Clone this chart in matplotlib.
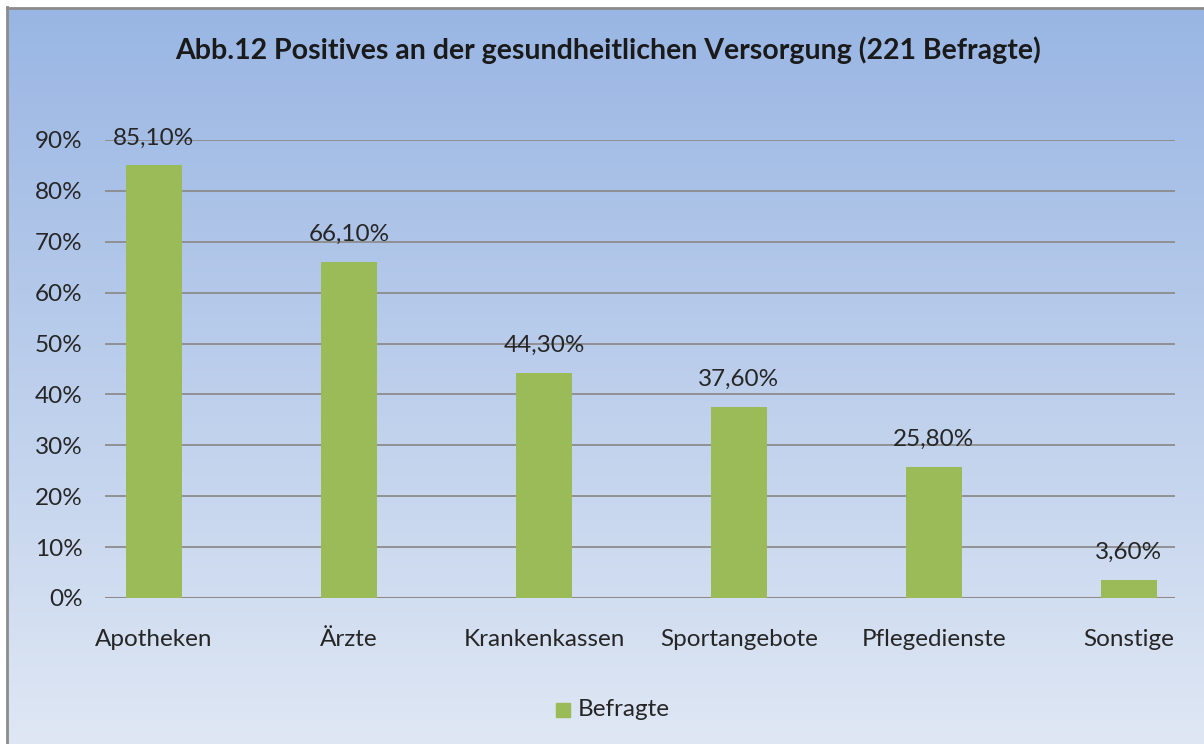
import numpy as np
import matplotlib.pyplot as plt
from matplotlib.patches import Rectangle
from matplotlib.lines import Line2D

# Data
categories = ['Apotheken', 'Ärzte', 'Krankenkassen', 'Sportangebote', 'Pflegedienste', 'Sonstige']
values     = [85.1, 66.1, 44.3, 37.6, 25.8, 3.6]
labels     = ['85,10%', '66,10%', '44,30%', '37,60%', '25,80%', '3,60%']
yticks     = [0, 10, 20, 30, 40, 50, 60, 70, 80, 90]
series     = 'Befragte'
title      = 'Abb.12 Positives an der gesundheitlichen Versorgung (221 Befragte)'

FONT   = ['Lato', 'DejaVu Sans']
GREEN  = '#9bbb59'
TXT    = '#262626'
FS     = 17.5
W, H   = 1204, 744

plt.rcParams['font.family'] = FONT
fig = plt.figure(figsize=(W / 100, H / 100), dpi=100)

# ── background gradient + border (only top/left visible) ────────────────────
bg = fig.add_axes([0, 0, 1, 1], zorder=0)
top = np.array([152, 181, 227]) / 255
bot = np.array([223, 231, 244]) / 255
t = np.linspace(0, 1, 256)[:, None]
grad = top * (1 - t) + bot * t
bg.imshow(grad[:, None, :], aspect='auto', extent=[0, 1, 0, 1])
bg.set_xlim(0, 1)
bg.set_ylim(0, 1)
bg.axis('off')
# white margin left/top outside the frame
bg.add_patch(Rectangle((0, 0), 6 / W, 1, color='white', zorder=2))
bg.add_patch(Rectangle((0, 1 - 7 / H), 1, 7 / H, color='white', zorder=2))
bg.add_line(Line2D([6.5 / W, 6.5 / W], [0, 1 - 7 / H], color='#8c8c8c', lw=2, zorder=3))
bg.add_line(Line2D([6.5 / W, 1], [1 - 7.5 / H, 1 - 7.5 / H], color='#8c8c8c', lw=2, zorder=3))

# ── plot area ────────────────────────────────────────────────────────────────
ax = fig.add_axes([105 / W, 1 - 598 / H, 1070 / W, 458 / H], zorder=1)
ax.patch.set_alpha(0)
x = np.arange(len(categories))
ax.bar(x, values, width=0.287, color=GREEN, zorder=3)

for xi, v, lab in zip(x, values, labels):
    ax.text(xi, v + 5.3, lab, ha='center', va='center', fontsize=FS, color=TXT, zorder=4)

ax.set_xlim(-0.251, 5.236)
ax.set_ylim(0, 90)
ax.set_yticks(yticks)
ax.set_yticklabels([f'{v}%' for v in yticks], fontsize=FS, color=TXT)
ax.set_xticks(x)
ax.set_xticklabels(categories, fontsize=FS, color=TXT)
ax.tick_params(axis='both', length=0)
ax.tick_params(axis='y', pad=16)
ax.tick_params(axis='x', pad=22)
ax.grid(axis='y', color='#8c8c8c', lw=1.3, zorder=0)
for s in ax.spines.values():
    s.set_visible(False)
ax.axhline(0, color='#8c8c8c', lw=1.5, zorder=2)

fig.text(608 / W, 1 - 50 / H, title, ha='center', va='center',
         fontsize=20.5, fontweight='bold', color='#1a1a1a')

# legend
fig.patches.append(Rectangle((556 / W, 1 - 717 / H), 14 / W, 14 / H, color=GREEN,
                             transform=fig.transFigure, figure=fig))
fig.text(578 / W, 1 - 710 / H, series, ha='left', va='center', fontsize=FS, color=TXT)

fig.savefig('out.png', dpi=100)
